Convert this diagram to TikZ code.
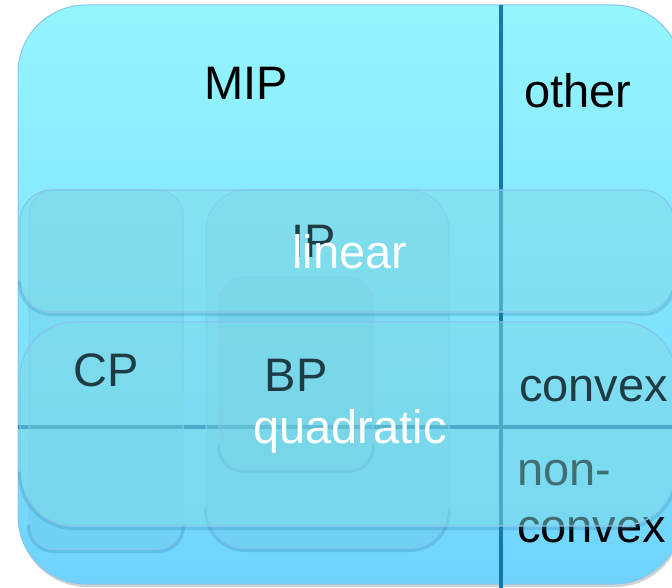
\documentclass[tikz,border=0pt]{standalone}
\usepackage{fontspec}
\setmainfont{Liberation Sans}
\usetikzlibrary{shadows}
\definecolor{outtop}{HTML}{95F6FF}
\definecolor{outbot}{HTML}{6FD3FE}
\definecolor{edgeblue}{HTML}{86C6EC}
\definecolor{axisblue}{HTML}{1877A9}
\definecolor{colfill}{HTML}{6CC8E0}
\definecolor{bandfill}{HTML}{80DCE6}
\definecolor{slate}{HTML}{1F3C44}
\definecolor{shadowblue}{HTML}{2A7FA8}
\tikzset{
  outerbox/.style={draw=edgeblue, line width=1pt, top color=outtop, bottom color=outbot,
    rounded corners=68pt, minimum width=664pt, minimum height=579pt, inner sep=0pt,
    drop shadow={shadow xshift=1pt, shadow yshift=-3pt, opacity=0.3, fill=black!60}},
  colbox/.style={draw=edgeblue, line width=1pt, fill=colfill, fill opacity=0.3, inner sep=0pt},
  bandbox/.style={draw=edgeblue, line width=1.2pt, fill=bandfill, fill opacity=0.5, inner sep=0pt},
  shadowline/.style={draw=shadowblue, draw opacity=0.25, line width=3pt},
  axisline/.style={draw=axisblue, line width=3.5pt},
  lbl/.style={font=\fontsize{47}{56}\selectfont, inner sep=0pt, text=black},
  darklbl/.style={lbl, text=slate},
  whitelbl/.style={lbl, text=white}
}
\newcommand{\bottomshade}[2]{%
  \draw[shadowline, rounded corners=#2pt]
    ([yshift=#2pt]#1.south west) -- ([yshift=-2pt]#1.south west) --
    ([yshift=-2pt]#1.south east) -- ([yshift=#2pt]#1.south east);}
\begin{document}
\begin{tikzpicture}[x=1pt,y=-1pt]
\useasboundingbox (0,0) rectangle (672,588);
\clip (0,0) rectangle (672,588);
% outer MIP region
\node[outerbox] (mip) at (350,294.5) {};
% axis lines
\coordinate (vtop) at (501,5);
\coordinate (vbot) at (501,588);
\coordinate (hleft) at (18,427);
\coordinate (hright) at (672,427);
\draw[axisline] (vtop) -- (vbot);
\draw[axisline] (hleft) -- (hright);
% top labels
\node[lbl, anchor=base] (miplbl) at (246,100) {MIP};
\node[lbl, anchor=base] (otherlbl) at (578,108) {other};
% column boxes
\node[colbox, rounded corners=25pt, minimum width=154pt, minimum height=359pt] (cpbox) at (106,369.5) {};
\node[colbox, rounded corners=40pt, minimum width=243pt, minimum height=358pt] (ipbox) at (327.5,369) {};
\bottomshade{cpbox}{25}
\bottomshade{ipbox}{40}
\node[colbox, rounded corners=25pt, minimum width=154pt, minimum height=192pt] (bpbox) at (296,373) {};
\bottomshade{bpbox}{25}
% text under the bands
\node[lbl, anchor=base west] (nonlbl) at (517,485) {non-};
\node[lbl, anchor=base west] (convex2lbl) at (517,542) {convex};
% bands
\node[bandbox, rounded corners=32pt, minimum width=654pt, minimum height=122pt] (linband) at (347,251) {};
\bottomshade{linband}{32}
\node[bandbox, rounded corners=55pt, minimum width=656pt, minimum height=204pt] (quadband) at (348,424) {};
\bottomshade{quadband}{55}
% labels on top
\node[darklbl, anchor=base] (iplbl) at (314,258) {IP};
\node[darklbl, anchor=base] (cplbl) at (106,386) {CP};
\node[darklbl, anchor=base] (bplbl) at (296,391) {BP};
\node[darklbl, anchor=base west] (convexlbl) at (519,401) {convex};
\node[whitelbl, anchor=base] (linlbl) at (350,268) {linear};
\node[whitelbl, anchor=base] (quadlbl) at (350,443) {quadratic};
\end{tikzpicture}
\end{document}
